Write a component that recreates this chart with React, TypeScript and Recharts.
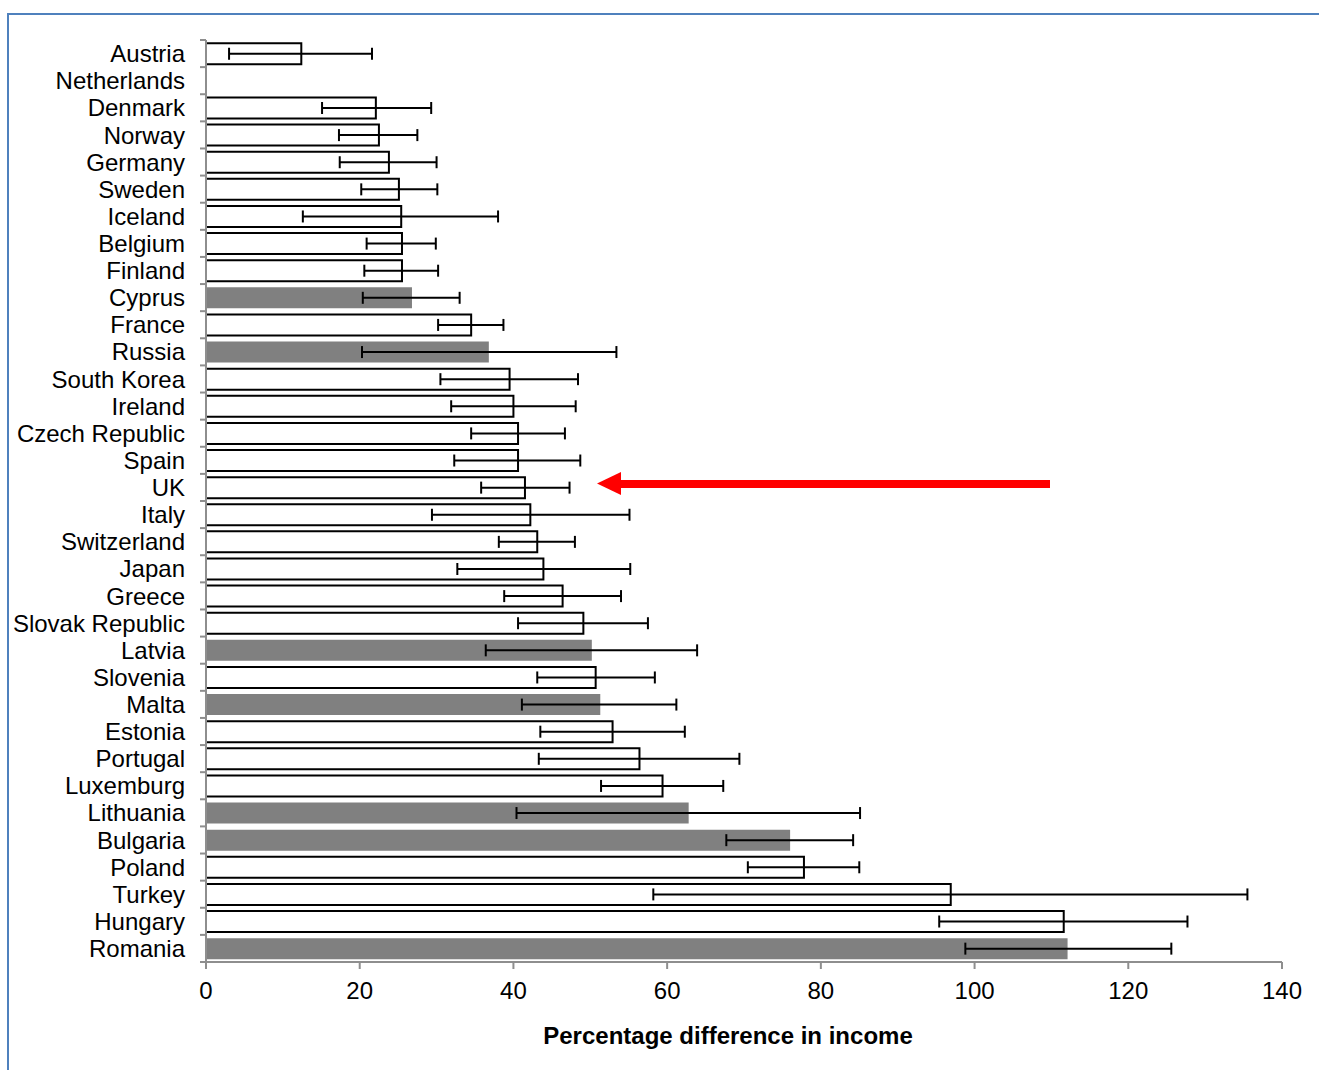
import { BarChart, Bar, XAxis, YAxis, Cell, ErrorBar } from "recharts";

const countries = [
  "Austria", "Netherlands", "Denmark", "Norway", "Germany", "Sweden", "Iceland",
  "Belgium", "Finland", "Cyprus", "France", "Russia", "South Korea", "Ireland",
  "Czech Republic", "Spain", "UK", "Italy", "Switzerland", "Japan", "Greece",
  "Slovak Republic", "Latvia", "Slovenia", "Malta", "Estonia", "Portugal",
  "Luxemburg", "Lithuania", "Bulgaria", "Poland", "Turkey", "Hungary", "Romania",
];

// percentage difference in income (Netherlands has no bar, only the interval)
const values = [
  12.4, 0, 22.1, 22.5, 23.8, 25.1, 25.4, 25.5, 25.5, 26.8, 34.5, 36.8, 39.5, 40.0,
  40.6, 40.6, 41.5, 42.2, 43.1, 43.9, 46.4, 49.1, 50.2, 50.7, 51.3, 52.9, 56.4,
  59.4, 62.8, 76.0, 77.8, 96.9, 111.6, 112.1,
];
const lows = [
  3.0, 14.1, 15.1, 17.3, 17.4, 20.2, 12.6, 20.9, 20.6, 20.4, 30.2, 20.3, 30.5, 31.9,
  34.5, 32.3, 35.8, 29.4, 38.1, 32.7, 38.8, 40.6, 36.4, 43.1, 41.1, 43.5, 43.3,
  51.4, 40.4, 67.7, 70.5, 58.2, 95.4, 98.8,
];
const highs = [
  21.6, 24.7, 29.3, 27.5, 30.0, 30.1, 38.0, 29.9, 30.2, 33.0, 38.7, 53.4, 48.4, 48.1,
  46.7, 48.7, 47.3, 55.1, 48.0, 55.2, 54.0, 57.5, 63.9, 58.4, 61.2, 62.3, 69.4,
  67.3, 85.1, 84.2, 85.0, 135.5, 127.7, 125.6,
];
// non-OECD countries drawn as solid grey bars
const greyCountries = ["Cyprus", "Russia", "Latvia", "Malta", "Lithuania", "Bulgaria", "Romania"];
const xTicks = [0, 20, 40, 60, 80, 100, 120, 140];

const data = countries.map((name, i) => ({
  name,
  value: values[i],
  err: [values[i] - lows[i], highs[i] - values[i]],
}));

const FONT = "'Liberation Sans', Arial, sans-serif";
const AXIS_GREY = "#8e8e8e";
const TOP = 40;
const BOTTOM = 962;
const BAND = (BOTTOM - TOP) / countries.length;

function CountryTick(props: any) {
  const { x, y, payload, index } = props;
  const axisX = x + 21;
  return (
    <g>
      <text x={x} y={y} dy="0.36em" textAnchor="end" fontSize={24} fill="#000" fontFamily={FONT}>
        {payload.value}
      </text>
      <line x1={axisX - 6} x2={axisX} y1={y - BAND / 2} y2={y - BAND / 2} stroke={AXIS_GREY} strokeWidth={2} />
      {index === countries.length - 1 && (
        <line x1={axisX - 6} x2={axisX} y1={y + BAND / 2} y2={y + BAND / 2} stroke={AXIS_GREY} strokeWidth={2} />
      )}
    </g>
  );
}

export default function App() {
  return (
    <div style={{ position: "absolute", left: 0, top: 0, width: 1319, height: 1070, overflow: "hidden", background: "#fff" }}>
      <div
        style={{
          position: "absolute",
          left: 7,
          top: 13,
          width: 1400,
          height: 1200,
          borderTop: "2px solid #4f81bd",
          borderLeft: "2px solid #4f81bd",
        }}
      />
      <BarChart
        width={1319}
        height={1070}
        data={data}
        layout="vertical"
        margin={{ top: TOP, right: 37, bottom: 0, left: 10 }}
        barCategoryGap="12%"
        style={{ position: "absolute", left: 0, top: 0, fontFamily: FONT }}
      >
        <XAxis
          type="number"
          domain={[0, 140]}
          ticks={xTicks}
          allowDataOverflow
          height={108}
          axisLine={{ stroke: AXIS_GREY, strokeWidth: 2 }}
          tickLine={{ stroke: AXIS_GREY, strokeWidth: 2 }}
          tickSize={7}
          tickMargin={13}
          tick={{ fontSize: 24, fill: "#000", fontFamily: FONT }}
          label={(p: any) => {
            const vb = p.viewBox;
            return (
              <text
                x={vb.x + vb.width / 2 - 16}
                y={1044}
                textAnchor="middle"
                fontSize={24}
                fontWeight="bold"
                fill="#000"
                fontFamily={FONT}
              >
                Percentage difference in income
              </text>
            );
          }}
        />
        <YAxis
          type="category"
          dataKey="name"
          width={196}
          interval={0}
          axisLine={{ stroke: AXIS_GREY, strokeWidth: 2 }}
          tickLine={false}
          tickSize={0}
          tickMargin={21}
          tick={<CountryTick />}
        />
        <Bar dataKey="value" isAnimationActive={false}>
          {data.map((d) =>
            greyCountries.includes(d.name) ? (
              <Cell key={d.name} fill="#808080" stroke="none" />
            ) : (
              <Cell key={d.name} fill="#fff" stroke="#000" strokeWidth={2} />
            )
          )}
          <ErrorBar dataKey="err" direction="x" width={6} stroke="#000" strokeWidth={2} isAnimationActive={false} />
        </Bar>
      </BarChart>
      <svg width={1319} height={1070} style={{ position: "absolute", left: 0, top: 0, pointerEvents: "none" }}>
        <rect x={619} y={480} width={431} height={8} fill="#ff0000" />
        <polygon points="597,483.5 621,472 621,495" fill="#ff0000" />
      </svg>
    </div>
  );
}
